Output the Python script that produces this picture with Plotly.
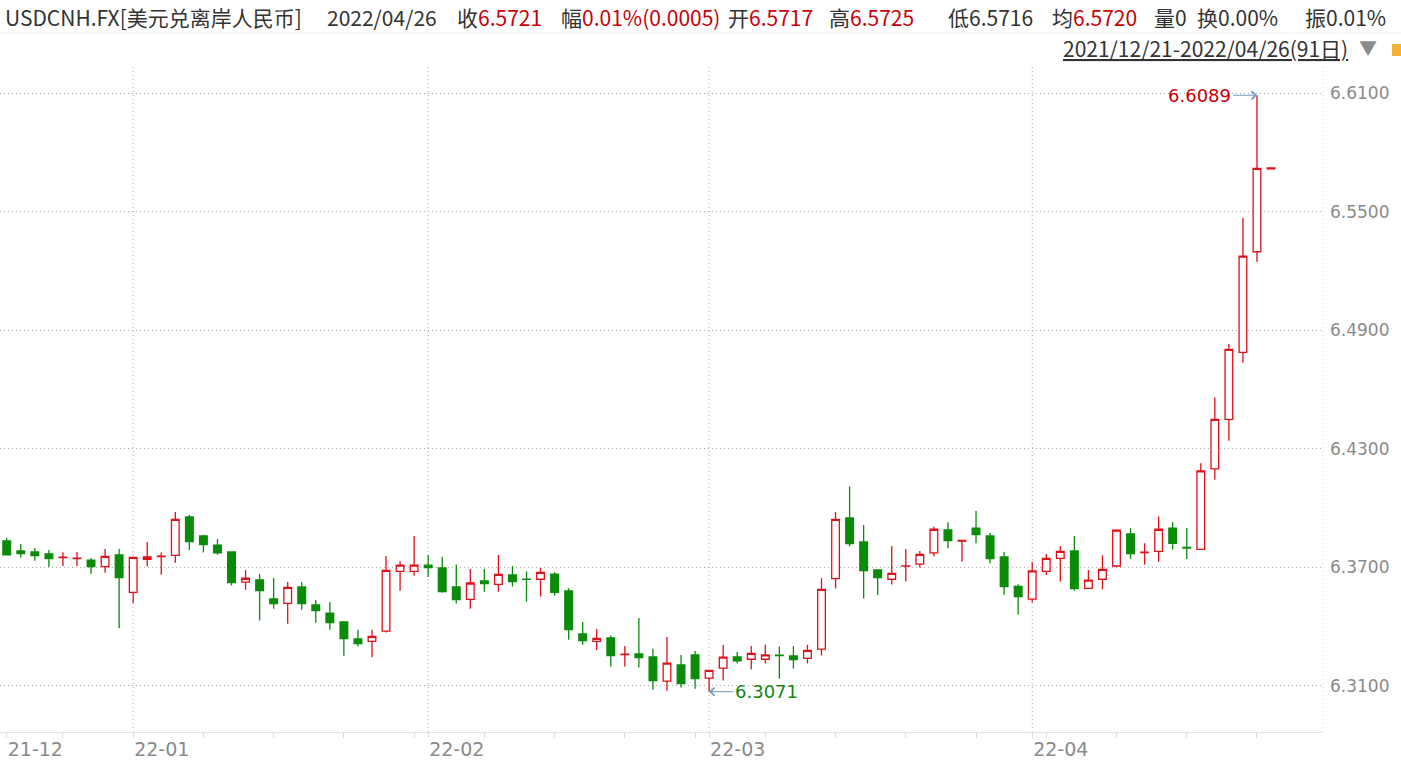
import plotly.graph_objects as go

# ---------------- data ----------------
dates = [
    "2021-12-21", "2021-12-22", "2021-12-23", "2021-12-24", "2021-12-27", "2021-12-28", "2021-12-29", "2021-12-30", "2021-12-31",
    "2022-01-03", "2022-01-04", "2022-01-05", "2022-01-06", "2022-01-07", "2022-01-10", "2022-01-11", "2022-01-12", "2022-01-13",
    "2022-01-14", "2022-01-17", "2022-01-18", "2022-01-19", "2022-01-20", "2022-01-21", "2022-01-24", "2022-01-25", "2022-01-26",
    "2022-01-27", "2022-01-28", "2022-01-31",
    "2022-02-01", "2022-02-02", "2022-02-03", "2022-02-04", "2022-02-07", "2022-02-08", "2022-02-09", "2022-02-10", "2022-02-11",
    "2022-02-14", "2022-02-15", "2022-02-16", "2022-02-17", "2022-02-18", "2022-02-21", "2022-02-22", "2022-02-23", "2022-02-24",
    "2022-02-25", "2022-02-28",
    "2022-03-01", "2022-03-02", "2022-03-03", "2022-03-04", "2022-03-07", "2022-03-08", "2022-03-09", "2022-03-10", "2022-03-11",
    "2022-03-14", "2022-03-15", "2022-03-16", "2022-03-17", "2022-03-18", "2022-03-21", "2022-03-22", "2022-03-23", "2022-03-24",
    "2022-03-25", "2022-03-28", "2022-03-29", "2022-03-30", "2022-03-31",
    "2022-04-01", "2022-04-04", "2022-04-05", "2022-04-06", "2022-04-07", "2022-04-08", "2022-04-11", "2022-04-12", "2022-04-13",
    "2022-04-14", "2022-04-15", "2022-04-18", "2022-04-19", "2022-04-20", "2022-04-21", "2022-04-22", "2022-04-25", "2022-04-26",
]

open_ = [6.3834, 6.3783, 6.3778, 6.3768, 6.3750, 6.3745, 6.3737, 6.3704, 6.3763, 6.3574,
         6.3741, 6.3755, 6.3761, 6.3955, 6.3859, 6.3813, 6.3778, 6.3625, 6.3636, 6.3540,
         6.3518, 6.3601, 6.3510, 6.3469, 6.3424, 6.3338, 6.3326, 6.3377, 6.3680, 6.3680,
         6.3711, 6.3697, 6.3601, 6.3538, 6.3631, 6.3614, 6.3662, 6.3641, 6.3640, 6.3666,
         6.3581, 6.3363, 6.3326, 6.3343, 6.3259, 6.3262, 6.3247, 6.3124, 6.3206, 6.3257,
         6.3140, 6.3190, 6.3247, 6.3235, 6.3235, 6.3256, 6.3252, 6.3240, 6.3286, 6.3643,
         6.3950, 6.3829, 6.3687, 6.3640, 6.3706, 6.3716, 6.3773, 6.3889, 6.3833, 6.3899,
         6.3859, 6.3753, 6.3604, 6.3539, 6.3680, 6.3746, 6.3783, 6.3594, 6.3640, 6.3707,
         6.3869, 6.3775, 6.3781, 6.3898, 6.3801, 6.3791, 6.4198, 6.4449, 6.4788, 6.5297,
         6.5717]
high = [6.3850, 6.3818, 6.3798, 6.3788, 6.3776, 6.3778, 6.3748, 6.3793, 6.3793, 6.3753,
        6.3829, 6.3775, 6.3980, 6.3965, 6.3864, 6.3844, 6.3778, 6.3687, 6.3667, 6.3646,
        6.3626, 6.3626, 6.3535, 6.3525, 6.3429, 6.3384, 6.3384, 6.3758, 6.3731, 6.3859,
        6.3763, 6.3753, 6.3714, 6.3692, 6.3692, 6.3763, 6.3707, 6.3679, 6.3697, 6.3675,
        6.3594, 6.3424, 6.3388, 6.3355, 6.3302, 6.3444, 6.3288, 6.3348, 6.3257, 6.3277,
        6.3180, 6.3307, 6.3272, 6.3302, 6.3308, 6.3299, 6.3302, 6.3308, 6.3645, 6.3980,
        6.4109, 6.3915, 6.3687, 6.3808, 6.3793, 6.3783, 6.3905, 6.3928, 6.3836, 6.3985,
        6.3874, 6.3778, 6.3614, 6.3726, 6.3768, 6.3807, 6.3859, 6.3687, 6.3761, 6.3893,
        6.3898, 6.3822, 6.3958, 6.3930, 6.3899, 6.4227, 6.4560, 6.4830, 6.5468, 6.6089,
        6.5725]
low = [6.3760, 6.3749, 6.3734, 6.3702, 6.3707, 6.3707, 6.3668, 6.3673, 6.3392, 6.3520,
       6.3704, 6.3663, 6.3724, 6.3788, 6.3775, 6.3764, 6.3608, 6.3587, 6.3431, 6.3491,
       6.3415, 6.3486, 6.3420, 6.3385, 6.3253, 6.3299, 6.3245, 6.3370, 6.3582, 6.3658,
       6.3651, 6.3572, 6.3517, 6.3491, 6.3577, 6.3577, 6.3603, 6.3527, 6.3552, 6.3557,
       6.3334, 6.3309, 6.3282, 6.3198, 6.3198, 6.3193, 6.3081, 6.3076, 6.3092, 6.3086,
       6.3071, 6.3128, 6.3213, 6.3183, 6.3213, 6.3137, 6.3188, 6.3213, 6.3254, 6.3593,
       6.3805, 6.3542, 6.3560, 6.3613, 6.3628, 6.3699, 6.3756, 6.3797, 6.3729, 6.3822,
       6.3719, 6.3562, 6.3461, 6.3522, 6.3662, 6.3628, 6.3582, 6.3594, 6.3589, 6.3700,
       6.3743, 6.3714, 6.3727, 6.3790, 6.3743, 6.3791, 6.4144, 6.4341, 6.4736, 6.5247,
       6.5716]
close = [6.3763, 6.3770, 6.3759, 6.3744, 6.3752, 6.3747, 6.3704, 6.3756, 6.3648, 6.3751,
         6.3753, 6.3757, 6.3943, 6.3830, 6.3815, 6.3773, 6.3623, 6.3645, 6.3582, 6.3517,
         6.3599, 6.3517, 6.3481, 6.3420, 6.3339, 6.3314, 6.3351, 6.3685, 6.3711, 6.3711,
         6.3699, 6.3577, 6.3537, 6.3621, 6.3618, 6.3665, 6.3628, 6.3639, 6.3675, 6.3574,
         6.3385, 6.3329, 6.3341, 6.3254, 6.3261, 6.3243, 6.3127, 6.3215, 6.3112, 6.3137,
         6.3179, 6.3246, 6.3227, 6.3265, 6.3257, 6.3254, 6.3233, 6.3280, 6.3589, 6.3943,
         6.3820, 6.3684, 6.3648, 6.3670, 6.3708, 6.3766, 6.3893, 6.3835, 6.3836, 6.3866,
         6.3744, 6.3603, 6.3552, 6.3682, 6.3746, 6.3781, 6.3592, 6.3635, 6.3690, 6.3888,
         6.3770, 6.3777, 6.3893, 6.3822, 6.3798, 6.4188, 6.4449, 6.4803, 6.5275, 6.5719,
         6.5721]

ytick_vals = [6.31, 6.37, 6.43, 6.49, 6.55, 6.61]

# header line
title_name = "USDCNH.FX[美元兑离岸人民币]"
title_date = "2022/04/26"
header_labels = ["收", "幅", "开", "高", "低", "均", "量", "换", "振"]
header_values = ["6.5721", "0.01%(0.0005)", "6.5717", "6.5725", "6.5716", "6.5720", "0", "0.00%", "0.01%"]
header_value_colors = ["#c8000a", "#c8000a", "#c8000a", "#c8000a", "#333333", "#c8000a", "#333333", "#333333", "#333333"]
header_x_px = [457, 561, 728, 829, 948, 1052, 1154, 1197, 1305]
range_text = "2021/12/21-2022/04/26(91日)"

# ---------------- style / layout constants ----------------
W, H = 1401, 763
ML, MR, MT, MB = 0, 78, 65, 31
PW, PH = W - ML - MR, H - MT - MB
RED = "#e0101a"
GREEN = "#0a8c0a"
GRID = "#a9a9a9"
DOT = "1px,3px"
LABEL = "#8a8a8a"
FONT = "Noto Sans CJK SC"
NUMFONT = "DejaVu Sans"
HSIZE = 21


def px_x(px):
    return (px - ML) / PW


def px_y(py):
    return (H - MB - py) / PH


x = list(range(len(dates)))

fig = go.Figure()
fig.add_trace(go.Candlestick(
    x=x, open=open_, high=high, low=low, close=close,
    increasing=dict(line=dict(color=RED, width=1.3), fillcolor="white"),
    decreasing=dict(line=dict(color=GREEN, width=1.3), fillcolor=GREEN),
    whiskerwidth=0,
    hoverinfo="skip",
    showlegend=False,
))

# month boundaries
month_idx = [i for i in range(len(dates)) if i == 0 or dates[i][5:7] != dates[i - 1][5:7]]
month_txt = [dates[i][2:4] + "-" + dates[i][5:7] for i in month_idx]

shapes = []
for i in month_idx[1:]:
    shapes.append(dict(type="line", xref="x", yref="paper", x0=i, x1=i, y0=0, y1=1,
                       line=dict(color=GRID, width=1, dash=DOT), layer="below"))
# right edge of plot
shapes.append(dict(type="line", xref="paper", yref="paper", x0=1, x1=1, y0=0, y1=1,
                   line=dict(color="#d8d8d8", width=1, dash=DOT), layer="below"))
# header separator
shapes.append(dict(type="line", xref="paper", yref="paper", x0=0, x1=px_x(W), y0=px_y(33), y1=px_y(33),
                   line=dict(color="#eeeeee", width=1)))
# small orange icon at far right
shapes.append(dict(type="rect", xref="paper", yref="paper", x0=px_x(1392), x1=px_x(1402),
                   y0=px_y(56), y1=px_y(44), line=dict(width=0), fillcolor="#f2b233"))

annotations = []
annotations.append(dict(xref="paper", yref="paper", x=px_x(3), y=px_y(17), xanchor="left", yanchor="middle",
                        text=title_name, showarrow=False, font=dict(family=FONT, size=HSIZE, color="#333333")))
annotations.append(dict(xref="paper", yref="paper", x=px_x(325), y=px_y(17), xanchor="left", yanchor="middle",
                        text=title_date, showarrow=False, font=dict(family=FONT, size=HSIZE, color="#333333")))
for lab, val, col, xp in zip(header_labels, header_values, header_value_colors, header_x_px):
    annotations.append(dict(xref="paper", yref="paper", x=px_x(xp - 2), y=px_y(17), xanchor="left", yanchor="middle",
                            text=f"{lab}<span style='color:{col}'>{val}</span>", showarrow=False,
                            font=dict(family=FONT, size=HSIZE, color="#333333")))
annotations.append(dict(xref="paper", yref="paper", x=px_x(1061), y=px_y(48), xanchor="left", yanchor="middle",
                        text=f"<u>{range_text}</u>", showarrow=False,
                        font=dict(family=FONT, size=HSIZE, color="#333333")))
annotations.append(dict(xref="paper", yref="paper", x=px_x(1357), y=px_y(47), xanchor="left", yanchor="middle",
                        text="▼", showarrow=False, font=dict(family=FONT, size=18, color="#8c8c8c")))

# max / min markers
imax = max(range(len(high)), key=lambda i: high[i])
imin = min(range(len(low)), key=lambda i: low[i])
annotations.append(dict(x=imax, y=high[imax], xref="x", yref="y", text=f"{high[imax]:.4f}",
                        showarrow=True, ax=-24, ay=0, xanchor="right", yanchor="middle",
                        arrowhead=4, arrowsize=1.6, arrowwidth=1, arrowcolor="#6a9cc4", standoff=0,
                        font=dict(family=NUMFONT, size=18, color="#c8000a")))
annotations.append(dict(x=imin, y=low[imin], xref="x", yref="y", text=f"{low[imin]:.4f}",
                        showarrow=True, ax=24, ay=0, xanchor="left", yanchor="middle",
                        arrowhead=4, arrowsize=1.6, arrowwidth=1, arrowcolor="#6a9cc4", standoff=0,
                        font=dict(family=NUMFONT, size=18, color="#118811")))

fig.update_layout(
    width=W, height=H,
    margin=dict(l=ML, r=MR, t=MT, b=MB, pad=0),
    paper_bgcolor="white", plot_bgcolor="white",
    showlegend=False,
    hovermode=False,
    boxgap=0.22,
    shapes=shapes,
    annotations=annotations,
    xaxis=dict(
        range=[-0.48, 93.7],
        rangeslider=dict(visible=False),
        showgrid=False, zeroline=False,
        tickmode="array", tickvals=month_idx, ticktext=month_txt,
        ticklabelposition="outside right",
        ticks="outside", ticklen=5, tickcolor="#dddddd",
        minor=dict(tick0=4, dtick=5, ticks="outside", ticklen=5, tickcolor="#dddddd", showgrid=False),
        showline=True, linecolor="#e3e3e3", linewidth=1,
        tickfont=dict(family=NUMFONT, size=19, color=LABEL),
        fixedrange=True,
    ),
    yaxis=dict(
        side="right",
        range=[6.2867, 6.6242],
        tickmode="array", tickvals=ytick_vals, ticktext=[f"{v:.4f}" for v in ytick_vals],
        showgrid=True, gridcolor=GRID, griddash=DOT, gridwidth=1,
        zeroline=False, showline=False, ticks="",
        ticklabelstandoff=6,
        tickfont=dict(family=NUMFONT, size=17, color=LABEL),
        fixedrange=True,
    ),
)

fig.write_html("out.html", config={"displayModeBar": False},
               post_script="document.body.style.margin='0';document.body.style.overflow='hidden';")
